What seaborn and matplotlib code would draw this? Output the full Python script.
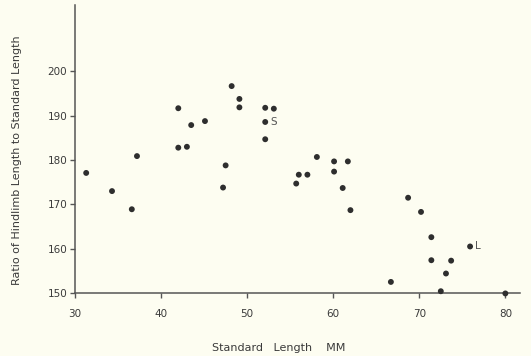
import numpy as np
import pandas as pd
import matplotlib
matplotlib.use("Agg")
import matplotlib.pyplot as plt
import seaborn as sns

# values
std_length = [31.3, 34.3, 36.6, 37.2, 42.0, 42.0, 43.0, 43.5, 45.1,
              47.2, 47.5, 48.2, 49.1, 49.1, 52.1, 52.1, 52.1, 53.1,
              55.7, 56.0, 57.0, 58.1, 60.1, 60.1, 61.1, 61.7, 62.0,
              66.7, 68.7, 70.2, 71.4, 71.4, 72.5, 73.1, 73.7, 75.9, 80.0]
hind_ratio = [177.1, 173.0, 168.9, 180.9, 191.7, 182.8, 183.0, 187.9, 188.8,
              173.8, 178.8, 196.7, 193.8, 191.9, 191.8, 188.6, 184.7, 191.6,
              174.7, 176.7, 176.7, 180.7, 179.7, 177.4, 173.7, 179.7, 168.7,
              152.5, 171.5, 168.3, 162.6, 157.4, 150.4, 154.4, 157.3, 160.5, 149.9]
point_labels = {"S": (52.1, 188.6), "L": (75.9, 160.5)}

x_ticks = [30, 40, 50, 60, 70, 80]
y_ticks = [150, 160, 170, 180, 190, 200]

df = pd.DataFrame({"length": std_length, "ratio": hind_ratio})

sns.set_style("ticks")
plt.rcParams["font.family"] = ["DejaVu Sans"]

bg = "#fdfdf1"
ink = "#3a3a3a"

fig = plt.figure(figsize=(5.31, 3.56), dpi=100, facecolor=bg)
ax = fig.add_axes([75 / 531, 63 / 356, 445 / 531, 288 / 356])
ax.set_facecolor(bg)

sns.scatterplot(data=df, x="length", y="ratio", ax=ax, color="#2e2e2e",
                s=18, edgecolor="none", clip_on=False, zorder=3)

for lab, (px, py) in point_labels.items():
    ax.annotate(lab, (px, py), xytext=(3.5, 0), textcoords="offset points",
                va="center", ha="left", fontsize=7.5, color="#555555")

ax.set_xlim(30, 81.7)
ax.set_ylim(150, 215)
ax.set_xticks(x_ticks)
ax.set_yticks(y_ticks)

for side in ["top", "right"]:
    ax.spines[side].set_visible(False)
for side in ["left", "bottom"]:
    ax.spines[side].set_color("#555555")
    ax.spines[side].set_linewidth(1.1)

ax.tick_params(axis="both", length=3.5, width=1, color="#555555",
               labelsize=7.5, labelcolor=ink, pad=2)
ax.tick_params(axis="x", pad=8)

ax.set_xlabel("Standard   Length    MM", fontsize=8, color=ink)
ax.set_ylabel("Ratio of Hindlimb Length to Standard Length", fontsize=8, color=ink)
ax.xaxis.set_label_coords(0.458, -0.172)
ax.yaxis.set_label_coords(-0.12, 0.46)

fig.savefig("out.png", dpi=100, facecolor=bg)
